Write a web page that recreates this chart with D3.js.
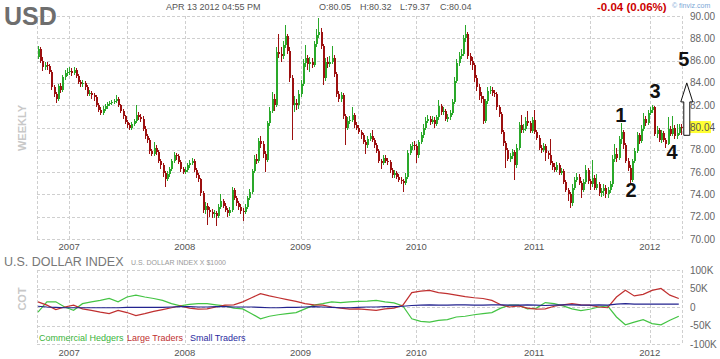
<!DOCTYPE html>
<html>
<head>
<meta charset="utf-8">
<script src="https://cdn.jsdelivr.net/npm/d3@7"></script>
<style>
  html, body { margin: 0; padding: 0; background: #fff; }
  svg { display: block; font-family: 'Liberation Sans', Arial, sans-serif; }
</style>
</head>
<body>
<svg id="chart" width="720" height="359"></svg>
<script>
// weekly USD index candles, first week ends 2006-09-29
var firstOpen = 86.3;
var closes = [
  87.0, 86.0, 85.4, 85.6, 85.5, 85.0, 83.6, 83.0, 82.6, 83.7,
  83.4, 84.5, 84.9, 85.0, 85.1, 84.9, 85.2, 84.6, 84.1, 83.9,
  84.0, 83.6, 83.0, 83.1, 82.9, 82.7, 82.0, 81.6, 81.3, 81.7,
  81.9, 82.1, 82.2, 82.3, 82.4, 82.6, 82.0, 81.5, 81.0, 80.5,
  80.2, 80.0, 80.3, 80.6, 81.1, 80.9, 80.8, 79.9, 79.2, 78.9,
  77.9, 77.6, 78.2, 77.8, 77.0, 76.6, 75.9, 75.4, 75.8, 76.3,
  77.0, 77.5, 77.4, 76.9, 76.3, 76.0, 76.2, 76.6, 76.8, 77.0,
  76.2, 75.7, 75.4, 74.1, 72.6, 73.0, 72.6, 72.4, 72.2, 72.3,
  72.1, 72.9, 73.4, 73.0, 72.6, 72.3, 72.6, 74.4, 73.7, 73.2,
  72.9, 72.5, 72.4, 72.9, 73.7, 74.2, 76.1, 77.2, 77.0, 78.8,
  78.5, 77.6, 77.1, 80.4, 81.5, 82.6, 82.0, 86.8, 86.6, 86.4,
  87.4, 88.2, 86.9, 84.4, 82.0, 82.2, 82.0, 83.0, 83.9, 85.8,
  86.2, 85.7, 85.9, 85.6, 87.5, 88.3, 88.6, 87.3, 84.4, 85.9,
  85.7, 85.9, 86.2, 84.8, 83.0, 82.6, 82.9, 81.0, 80.0, 80.6,
  80.7, 81.1, 80.2, 80.0, 79.6, 79.3, 78.7, 78.4, 79.0, 79.2,
  78.9, 78.4, 77.9, 77.0, 76.8, 77.3, 77.0, 76.9, 76.2, 75.7,
  75.9, 75.6, 75.3, 75.2, 75.0, 75.6, 77.7, 78.3, 78.4, 78.3,
  77.5, 78.7, 79.3, 80.0, 80.6, 80.8, 80.5, 80.7, 80.3, 80.9,
  81.9, 81.4, 81.5, 80.8, 80.9, 81.3, 82.3, 84.2, 85.8, 86.4,
  86.6, 88.0, 88.4, 86.4, 86.0, 85.6, 84.4, 83.6, 82.8, 82.6,
  80.6, 82.4, 83.3, 83.4, 83.1, 83.0, 81.8, 81.2, 79.6, 78.6,
  78.0, 77.2, 77.4, 77.8, 76.6, 78.2, 80.2, 79.8, 79.9, 80.6,
  80.4, 79.7, 80.7, 79.6, 79.1, 78.2, 78.0, 78.3, 77.7, 77.5,
  76.8, 76.5, 76.2, 76.6, 75.9, 76.1, 75.1, 74.4, 74.0, 73.2,
  74.6, 75.3, 75.6, 75.0, 74.4, 75.1, 76.2, 75.2, 74.9, 75.5,
  74.6, 74.9, 74.1, 74.3, 74.6, 74.0, 74.4, 74.9, 77.2, 77.6,
  77.3, 79.0, 79.6, 78.4, 77.0, 76.4, 75.3, 77.0, 77.9, 79.3,
  78.8, 79.9, 80.8, 80.4, 81.3, 81.6, 81.8, 79.4, 79.8, 78.9,
  79.5, 78.9, 78.5, 79.9, 79.4, 80.0, 79.2, 79.5, 80.05, 80.04
];
var highs = [
  87.3, 87.2, 86.3, 85.9, 85.9, 85.7, 85.2, 83.8, 83.2, 83.9,
  84.0, 84.7, 85.2, 85.3, 85.4, 85.3, 85.4, 85.3, 84.8, 84.3,
  84.3, 84.2, 83.8, 83.4, 83.3, 83.1, 82.9, 82.2, 81.8, 81.9,
  82.1, 82.3, 82.4, 82.5, 82.6, 82.9, 82.7, 82.1, 81.7, 81.1,
  80.7, 80.4, 80.5, 80.8, 82.0, 81.4, 81.2, 81.0, 80.1, 79.4,
  79.1, 78.1, 78.7, 78.4, 78.0, 77.2, 76.8, 76.1, 76.1, 76.5,
  77.2, 77.8, 77.7, 77.6, 77.1, 76.5, 76.5, 76.8, 77.1, 77.3,
  77.2, 76.4, 75.9, 75.5, 74.3, 73.3, 73.2, 72.9, 72.7, 72.6,
  72.5, 73.1, 74.0, 73.6, 73.2, 72.8, 72.9, 74.7, 74.6, 73.9,
  73.4, 73.1, 72.8, 73.1, 73.9, 74.5, 76.3, 77.5, 77.6, 79.1,
  79.2, 78.8, 77.9, 80.6, 81.8, 83.2, 83.0, 87.2, 88.4, 87.2,
  87.8, 89.2, 88.4, 87.2, 84.7, 82.8, 82.6, 83.4, 84.3, 86.1,
  87.4, 86.5, 86.3, 86.2, 87.8, 88.8, 89.8, 88.9, 87.5, 86.2,
  86.3, 86.4, 87.3, 86.5, 85.0, 83.3, 83.2, 83.1, 81.2, 80.9,
  81.0, 81.8, 81.3, 80.5, 80.2, 79.8, 79.5, 78.9, 79.2, 79.5,
  79.8, 79.1, 78.6, 78.1, 77.2, 77.5, 77.5, 77.3, 77.1, 76.4,
  76.2, 76.1, 75.8, 75.6, 75.4, 75.9, 78.0, 78.5, 78.7, 78.8,
  78.5, 78.9, 79.6, 80.3, 80.9, 81.1, 81.0, 81.0, 80.9, 81.1,
  82.5, 82.1, 81.8, 81.7, 81.2, 81.6, 82.6, 84.5, 86.1, 86.8,
  87.0, 88.3, 89.2, 88.6, 86.7, 86.3, 85.8, 84.7, 83.9, 83.2,
  82.8, 82.6, 83.6, 83.7, 83.6, 83.4, 83.2, 82.0, 81.4, 79.8,
  78.8, 78.2, 77.7, 78.1, 78.0, 78.5, 80.5, 81.1, 80.3, 80.9,
  81.5, 80.6, 80.9, 81.6, 79.8, 79.3, 78.4, 78.6, 78.5, 77.9,
  79.0, 77.0, 76.8, 76.9, 76.8, 76.4, 76.3, 75.3, 74.6, 74.2,
  74.9, 75.6, 75.9, 75.8, 75.2, 75.4, 76.6, 76.4, 75.4, 77.1,
  75.7, 75.8, 75.1, 74.6, 74.9, 74.8, 74.7, 75.2, 77.5, 78.5,
  78.2, 79.2, 80.4, 79.8, 78.6, 77.3, 76.6, 77.2, 78.2, 79.6,
  79.5, 80.2, 81.3, 81.0, 81.6, 81.8, 82.0, 81.9, 80.1, 80.0,
  79.8, 79.7, 79.1, 80.9, 80.1, 81.0, 80.2, 80.3, 80.3, 80.32
];
var lows = [
  86.1, 85.8, 85.1, 85.2, 85.2, 84.8, 83.4, 82.7, 82.2, 82.4,
  83.1, 83.2, 84.3, 84.6, 84.7, 84.6, 84.7, 84.4, 83.9, 83.6,
  83.6, 83.4, 82.8, 82.8, 82.6, 82.4, 81.8, 81.4, 81.1, 81.1,
  81.5, 81.7, 81.9, 82.0, 82.1, 82.2, 81.8, 81.3, 80.8, 80.3,
  80.0, 79.8, 79.8, 80.1, 80.4, 80.7, 80.5, 79.7, 79.0, 78.6,
  77.6, 77.4, 77.4, 77.5, 76.8, 76.3, 75.6, 74.7, 75.2, 75.6,
  76.1, 76.8, 77.1, 76.7, 76.0, 75.8, 75.8, 76.0, 76.4, 76.6,
  76.0, 75.5, 75.1, 73.9, 72.3, 72.2, 71.3, 72.0, 71.9, 71.9,
  71.2, 71.9, 72.7, 72.8, 72.4, 72.0, 72.1, 72.4, 73.5, 73.0,
  72.6, 72.2, 71.6, 72.2, 72.7, 73.5, 74.0, 75.9, 76.7, 76.8,
  78.2, 77.3, 76.0, 76.9, 80.1, 81.3, 81.5, 81.8, 86.2, 85.9,
  86.1, 87.1, 86.6, 84.1, 78.9, 81.4, 81.6, 81.7, 82.7, 83.7,
  85.4, 85.2, 85.0, 85.3, 85.4, 87.2, 88.0, 87.0, 83.8, 84.2,
  85.3, 85.4, 85.7, 84.5, 82.7, 82.3, 82.3, 80.8, 78.4, 79.8,
  80.3, 80.5, 80.0, 79.8, 79.4, 79.0, 78.5, 77.6, 78.2, 78.8,
  78.7, 78.2, 77.7, 76.8, 76.3, 76.6, 76.8, 76.6, 75.9, 75.5,
  75.5, 75.4, 75.1, 74.9, 74.2, 74.8, 75.4, 77.5, 78.0, 78.0,
  76.8, 77.3, 78.5, 79.1, 79.8, 80.4, 80.2, 80.3, 80.0, 80.1,
  80.7, 81.1, 81.1, 80.6, 80.5, 80.7, 81.1, 82.1, 84.0, 85.5,
  86.1, 86.4, 87.7, 86.1, 85.6, 85.2, 84.1, 83.3, 82.5, 82.2,
  80.3, 80.4, 82.1, 83.0, 82.8, 82.7, 81.6, 80.9, 79.4, 78.3,
  76.4, 77.0, 76.9, 77.2, 75.3, 76.4, 78.0, 79.5, 79.5, 79.7,
  80.1, 79.5, 79.5, 79.4, 78.9, 78.0, 77.7, 77.8, 77.0, 77.2,
  76.6, 76.2, 76.0, 76.0, 75.7, 75.7, 74.9, 74.2, 73.4, 72.8,
  73.0, 74.4, 75.1, 74.8, 73.7, 74.2, 74.9, 74.9, 74.4, 74.7,
  74.4, 74.4, 73.9, 73.8, 73.9, 73.7, 73.7, 74.1, 74.7, 76.9,
  76.9, 77.1, 78.5, 78.1, 76.8, 76.1, 75.0, 75.1, 76.8, 77.7,
  78.5, 78.6, 79.7, 80.1, 80.2, 81.1, 81.3, 79.2, 79.1, 78.7,
  78.6, 78.7, 78.2, 78.4, 79.2, 79.2, 79.0, 79.0, 79.3, 79.37
];
var priceTicks = [70, 72, 74, 76, 78, 82, 84, 86, 88, 90];
var lastPrice = 80.04;

// COT net positions (thousands of contracts), one sample every 4 weeks
var cotStep = 4;
var commercial = [
  -14, 14, 14, 0, -9, 9, 14, 18, 23, 14, 27, 32, 27, 23, 18, 9, 3, 7, 9, 9,
  6, 3, -3, -5, -18, -32, -25, -21, -18, -15, -5, 5, 9, 14, 12, 14, 15, 16, 18, 14,
  11, 3, -32, -39, -41, -36, -34, -27, -25, -21, -18, -15, -3, 5, 5, -5, -3, 12, 9, 3,
  -5, -10, -6, 0, 3, -27, -48, -41, -34, -45, -48, -36, -25
];
var large = [
  14, 5, -7, 0, 5, -5, -9, -14, -18, -9, -15, -23, -18, -12, -7, -2, 3, -3, -6, -5,
  0, 5, 6, 14, 25, 36, 30, 25, 20, 15, 9, 6, 5, 0, -3, -6, -5, -7, -9, -5,
  -3, 5, 39, 43, 45, 39, 36, 32, 28, 25, 23, 18, 6, 0, 3, -3, -6, -5, 2, 6,
  9, 6, 5, 0, -2, 27, 45, 30, 34, 45, 50, 32, 23
];
var small = [
  2, 0, -1, -2, -2, -2, -2, -2, -2, -2, -1, -1, -1, -1, -1, 0, 1, 1, 0, 0,
  1, 1, 0, 0, 0, -1, -2, -2, -1, -1, 0, 1, 0, -1, -2, -2, -1, 0, 0, 1,
  1, 2, 4, 5, 6, 5, 5, 6, 6, 5, 5, 6, 6, 5, 5, 6, 5, 4, 5, 6,
  6, 5, 5, 6, 5, 8, 9, 8, 8, 8, 8, 8, 8
];
var cotTicks = [100, 50, 0, -50, -100];
var cotLabels = ['100K', '50K', '0', '-50K', '-100K'];

// hand drawn wave count (week index, price level)
var marks = [
  {text: '1', i: 262, v: 81.1},
  {text: '2', i: 266.5, v: 74.4},
  {text: '3', i: 277.3, v: 83.3},
  {text: '4', i: 285, v: 77.8},
  {text: '5', i: 290.3, v: 86.1}
];
var arrow = {i: 291.6, from: 79.3, to: 84.0};

var svg = d3.select('#chart');
var left = 37, right = 682;

var weeks = closes.map(function(c, i) {
  return d3.timeWeek.offset(new Date(2006, 8, 29), i);
});

var x = d3.scaleLinear().domain([0, closes.length - 1]).range([38, 681]);
var y = d3.scaleLinear().domain([70, 90]).range([239, 16]);
var yc = d3.scaleLinear().domain([-100, 100]).range([344, 270]);

// first week of every January / July
var gridWeeks = [], yearWeeks = [];
weeks.forEach(function(d, i) {
  if (!i) { return; }
  var p = weeks[i - 1];
  if (d.getMonth() !== p.getMonth() && (d.getMonth() === 0 || d.getMonth() === 6)) {
    gridWeeks.push(i);
    if (d.getMonth() === 0) { yearWeeks.push(i); }
  }
});

function grid(g, ys, top, bottom) {
  g.selectAll('line.h').data(ys).enter().append('line')
    .attr('class', 'h')
    .attr('x1', left).attr('x2', right)
    .attr('y1', function(d) { return Math.round(d) + 0.5; })
    .attr('y2', function(d) { return Math.round(d) + 0.5; });
  g.selectAll('line.v').data([left].concat(gridWeeks.map(function(i) { return Math.round(x(i)); }), [right]))
    .enter().append('line')
    .attr('class', 'v')
    .attr('x1', function(d) { return d + 0.5; })
    .attr('x2', function(d) { return d + 0.5; })
    .attr('y1', top).attr('y2', bottom);
  g.selectAll('line')
    .style('stroke', '#cfcfcf')
    .style('stroke-width', 1)
    .style('stroke-dasharray', '3,2');
}

grid(svg.append('g'), d3.range(70, 91, 2).map(y), 16, 239);
grid(svg.append('g'), cotTicks.map(yc), 270, 344);

// header
svg.append('text').attr('x', 4).attr('y', 25)
  .style('font-size', '25px').style('font-weight', 'bold').style('fill', '#6e6e6e')
  .text('USD');
var header = svg.append('g').style('font-size', '9px').style('fill', '#555');
header.append('text').attr('x', 166).attr('y', 10).text('APR 13 2012 04:55 PM');
header.append('text').attr('x', 319).attr('y', 10).text('O:80.05');
header.append('text').attr('x', 360).attr('y', 10).text('H:80.32');
header.append('text').attr('x', 400).attr('y', 10).text('L:79.37');
header.append('text').attr('x', 440).attr('y', 10).text('C:80.04');
svg.append('text').attr('x', 597).attr('y', 11)
  .style('font-size', '11.5px').style('font-weight', 'bold').style('fill', '#cc0000')
  .text('-0.04 (0.06%)');
svg.append('text').attr('x', 672).attr('y', 8)
  .style('font-size', '7px').style('fill', '#7aa7d6')
  .text('\u00a9 finviz.com');

// side titles
svg.append('text')
  .attr('transform', 'translate(26,128) rotate(-90)')
  .attr('text-anchor', 'middle')
  .style('font-size', '11px').style('font-weight', 'bold').style('fill', '#c8c8c8')
  .text('WEEKLY');
svg.append('text')
  .attr('transform', 'translate(26,299) rotate(-90)')
  .attr('text-anchor', 'middle')
  .style('font-size', '11px').style('font-weight', 'bold').style('fill', '#c8c8c8')
  .text('COT');

// price axis
svg.append('g').selectAll('text').data(priceTicks).enter().append('text')
  .attr('x', 690).attr('y', function(d) { return y(d) + 3.5; })
  .style('font-size', '10px').style('fill', '#666')
  .text(function(d) { return d.toFixed(2); });
svg.append('rect')
  .attr('x', 688).attr('y', y(lastPrice) - 6).attr('width', 23).attr('height', 12)
  .style('fill', '#ffff33');
svg.append('text')
  .attr('x', 690).attr('y', y(lastPrice) + 3.5)
  .style('font-size', '10px').style('fill', '#555')
  .text(lastPrice.toFixed(2));

// year labels
[250, 356].forEach(function(base) {
  svg.append('g').selectAll('text').data(yearWeeks).enter().append('text')
    .attr('x', function(i) { return x(i); })
    .attr('y', base)
    .attr('text-anchor', 'middle')
    .style('font-size', '9.5px').style('fill', '#555')
    .text(function(i) { return weeks[i].getFullYear(); });
});

// candles
var candles = closes.map(function(c, i) {
  return {i: i, open: i ? closes[i - 1] : firstOpen, close: c, high: highs[i], low: lows[i]};
});
var cg = svg.append('g').attr('shape-rendering', 'crispEdges');
var color = function(d) { return d.close >= d.open ? '#2aa82a' : '#9c1010'; };
cg.selectAll('rect.wick').data(candles).enter().append('rect')
  .attr('class', 'wick')
  .attr('x', function(d) { return Math.round(x(d.i)); })
  .attr('y', function(d) { return y(d.high); })
  .attr('width', 1)
  .attr('height', function(d) { return y(d.low) - y(d.high); })
  .style('fill', color);
cg.selectAll('rect.body').data(candles).enter().append('rect')
  .attr('class', 'body')
  .attr('x', function(d) { return Math.round(x(d.i)) - 0.5; })
  .attr('y', function(d) { return y(Math.max(d.open, d.close)); })
  .attr('width', 2)
  .attr('height', function(d) { return Math.max(1, Math.abs(y(d.open) - y(d.close))); })
  .style('fill', color);

// wave labels and arrow
svg.append('g').selectAll('text').data(marks).enter().append('text')
  .attr('x', function(d) { return x(d.i); })
  .attr('y', function(d) { return y(d.v) + 7; })
  .attr('text-anchor', 'middle')
  .style('font-size', '20px').style('font-weight', 'bold').style('fill', '#111')
  .text(function(d) { return d.text; });
var ax = x(arrow.i), ab = y(arrow.from), at = y(arrow.to), ah = at + 19;
svg.append('path')
  .attr('d', d3.line()([[ax - 3, ab], [ax - 3, ah], [ax - 6, ah], [ax, at], [ax + 6, ah], [ax + 3, ah], [ax + 3, ab]]) + 'Z')
  .style('fill', '#fff').style('stroke', '#111').style('stroke-width', 1);

// lower panel titles
svg.append('text').attr('x', 4).attr('y', 266)
  .style('font-size', '12.5px').style('fill', '#777')
  .text('U.S. DOLLAR INDEX');
svg.append('text').attr('x', 131).attr('y', 265)
  .style('font-size', '7px').style('fill', '#999')
  .text('U.S. DOLLAR INDEX X $1000');

svg.append('g').selectAll('text').data(cotTicks).enter().append('text')
  .attr('x', 690).attr('y', function(d) { return yc(d) + 3.5; })
  .style('font-size', '10px').style('fill', '#666')
  .text(function(d, k) { return cotLabels[k]; });

// COT lines
var line = d3.line()
  .x(function(d, k) { return x(k * cotStep); })
  .y(function(d) { return yc(d); });
[[commercial, '#44c444'], [large, '#c03030'], [small, '#23238f']].forEach(function(s) {
  svg.append('path')
    .attr('d', line(s[0]))
    .style('fill', 'none')
    .style('stroke', s[1])
    .style('stroke-width', 1.2);
});

// legend
var legend = svg.append('g').style('font-size', '9px');
legend.append('text').attr('x', 39).attr('y', 341).style('fill', '#3bb33b').text('Commercial Hedgers');
legend.append('text').attr('x', 127).attr('y', 341).style('fill', '#c03030').text('Large Traders');
legend.append('text').attr('x', 190).attr('y', 341).style('fill', '#2a2aa0').text('Small Traders');
</script>
</body>
</html>
